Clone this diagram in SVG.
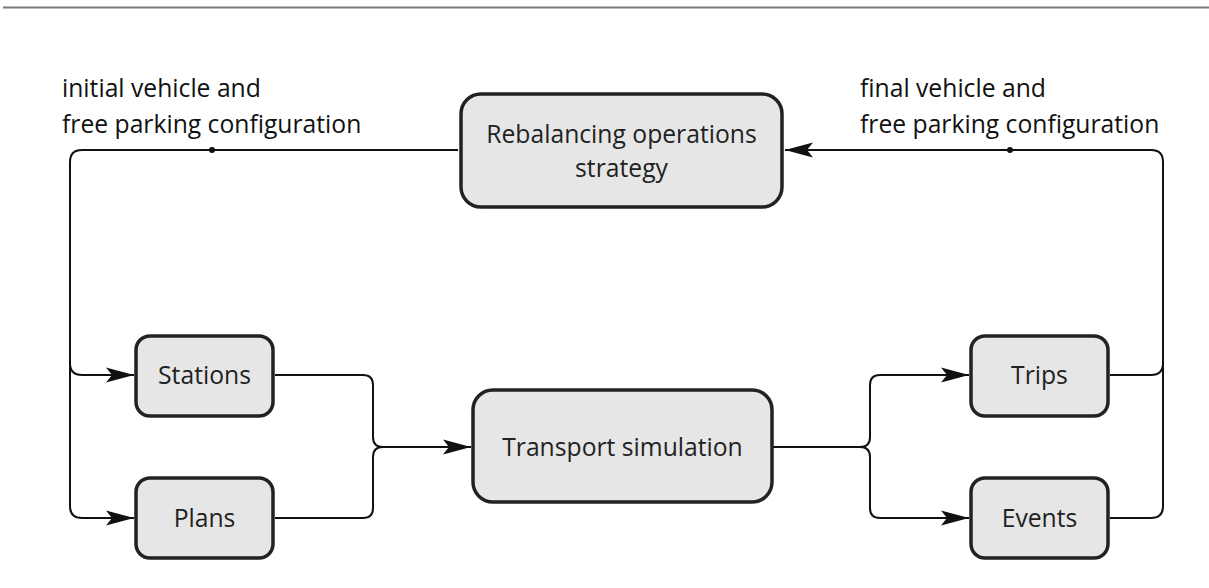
<svg xmlns="http://www.w3.org/2000/svg" width="1209" height="588" viewBox="0 0 1209 588">
<defs>
<style>
.box{fill:#e6e6e6;stroke:#222;stroke-width:3.5}
.lbl{font-family:"Open Sans","Noto Sans",sans-serif;font-size:24.7px;fill:#222;text-anchor:middle}
.ann{font-family:"Open Sans","Noto Sans",sans-serif;font-size:24.7px;fill:#111}
.ln{fill:none;stroke:#111;stroke-width:2}
.ah{fill:#111}
</style>
<marker id="arr" markerUnits="userSpaceOnUse" markerWidth="32" markerHeight="18" viewBox="-30 -9 32 18" refX="0" refY="0" orient="auto">
<path class="ah" d="M0,0 L-28,-7.5 L-22,0 L-28,7.5 Z"/>
</marker>
</defs>
<rect x="3" y="6.5" width="1206" height="2" fill="#777"/>
<g id="connectors">
<path class="ln" d="M458,150 H82 Q70,150 70,162 V363 Q70,375 82,375 H134" marker-end="url(#arr)"/>
<path class="ln" d="M70,363 V506 Q70,518 82,518 H134" marker-end="url(#arr)"/>
<circle class="ah" cx="212" cy="150" r="3"/>
<path class="ln" d="M275,375 H363 Q373,375 373,385 V437 Q373,447 383,447 H471" marker-end="url(#arr)"/>
<path class="ln" d="M275,518 H363 Q373,518 373,508 V457 Q373,447 383,447"/>
<path class="ln" d="M773,447 H860 Q870,447 870,437 V385 Q870,375 880,375 H969" marker-end="url(#arr)"/>
<path class="ln" d="M860,447 Q870,447 870,457 V508 Q870,518 880,518 H969" marker-end="url(#arr)"/>
<path class="ln" d="M1110,375 H1151 Q1163,375 1163,363 V162 Q1163,150 1151,150 H785" marker-end="url(#arr)"/>
<path class="ln" d="M1110,518 H1151 Q1163,518 1163,506 V363"/>
<circle class="ah" cx="1010" cy="150" r="3"/>
</g>
<g id="annot-left">
<text class="ann" x="62" y="97">initial vehicle and</text>
<text class="ann" x="62" y="133">free parking configuration</text>
</g>
<g id="annot-right">
<text class="ann" x="860" y="97">final vehicle and</text>
<text class="ann" x="860" y="133">free parking configuration</text>
</g>
<g id="rebalancing">
<rect class="box" x="461" y="94" width="321" height="113" rx="20"/>
<text class="lbl" x="621.5" y="142.5">Rebalancing operations</text>
<text class="lbl" x="621.5" y="177">strategy</text>
</g>
<g id="stations">
<rect class="box" x="136" y="336" width="137" height="80" rx="14"/>
<text class="lbl" x="204.5" y="384">Stations</text>
</g>
<g id="plans">
<rect class="box" x="136" y="478" width="137" height="80" rx="14"/>
<text class="lbl" x="204.5" y="527">Plans</text>
</g>
<g id="transport">
<rect class="box" x="473" y="390" width="299" height="112" rx="20"/>
<text class="lbl" x="622.5" y="456">Transport simulation</text>
</g>
<g id="trips">
<rect class="box" x="971" y="336" width="137" height="80" rx="14"/>
<text class="lbl" x="1039.5" y="384">Trips</text>
</g>
<g id="events">
<rect class="box" x="971" y="478" width="137" height="80" rx="14"/>
<text class="lbl" x="1039.5" y="527">Events</text>
</g>
</svg>
